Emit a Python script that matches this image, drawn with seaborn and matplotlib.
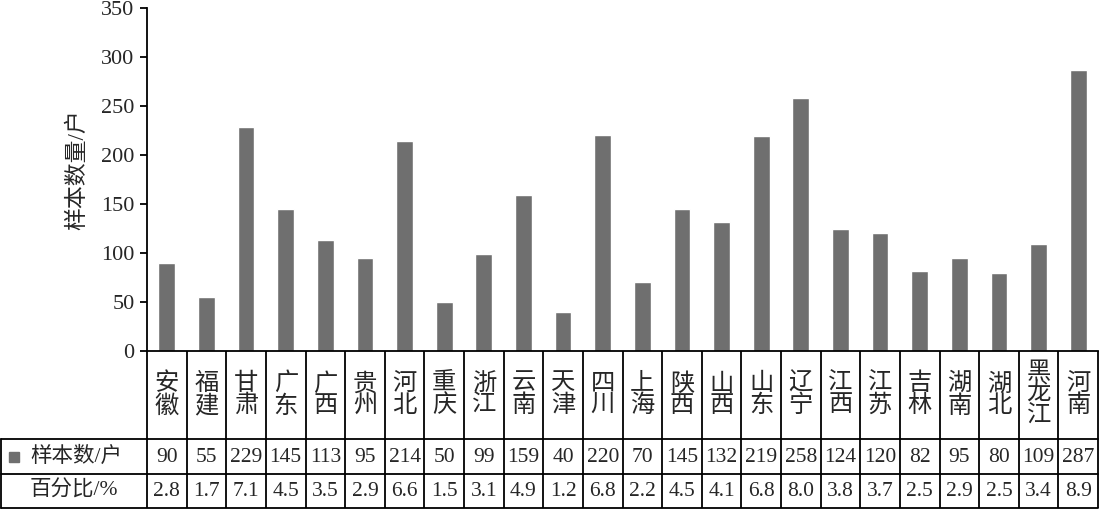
import matplotlib
matplotlib.use('Agg')
import matplotlib.pyplot as plt
import seaborn as sns
import pandas as pd

provinces = ['安徽', '福建', '甘肃', '广东', '广西', '贵州', '河北', '重庆', '浙江', '云南',
             '天津', '四川', '上海', '陕西', '山西', '山东', '辽宁', '江西', '江苏', '吉林',
             '湖南', '湖北', '黑龙江', '河南']
counts = [90, 55, 229, 145, 113, 95, 214, 50, 99, 159, 40, 220, 70, 145, 132, 219, 258,
          124, 120, 82, 95, 80, 109, 287]
percents = ['2.8', '1.7', '7.1', '4.5', '3.5', '2.9', '6.6', '1.5', '3.1', '4.9', '1.2', '6.8',
            '2.2', '4.5', '4.1', '6.8', '8.0', '3.8', '3.7', '2.5', '2.9', '2.5', '3.4', '8.9']
yticks = [0, 50, 100, 150, 200, 250, 300, 350]
row_labels = ['样本数/户', '百分比/%']

bar_color = '#6f6f6f'

sns.set_style('ticks')
plt.rcParams['font.family'] = ['Liberation Serif', 'Noto Sans CJK SC']
plt.rcParams['axes.unicode_minus'] = False

df = pd.DataFrame({'省份': provinces, '样本数': counts})

W, H = 1100, 509
fig = plt.figure(figsize=(W / 100, H / 100), dpi=100)

# chart area (pixels): x 147..1098, y 8..351
ax_l, ax_r, ax_t, ax_b = 147, 1098, 8, 351
ax = fig.add_axes([ax_l / W, (H - ax_b) / H, (ax_r - ax_l) / W, (ax_b - ax_t) / H])
sns.barplot(data=df, x='省份', y='样本数', color=bar_color, saturation=1, width=0.42, ax=ax)
n = len(provinces)
ax.set_xlim(-0.5, n - 0.5)
ax.set_ylim(0, 350)
ax.set_yticks(yticks)
ax.set_yticklabels([str(v) for v in yticks], fontsize=16)
ax.set_xticks([])
ax.set_xlabel('')
ax.set_ylabel('样本数量/户', fontsize=16.5)
ax.yaxis.set_label_coords(-0.062, 0.53)
for s in ['top', 'right']:
    ax.spines[s].set_visible(False)
for s in ['left', 'bottom']:
    ax.spines[s].set_linewidth(1.3)
    ax.spines[s].set_color('black')
ax.tick_params(axis='y', length=5, width=1.3, color='black', pad=4)

# data table under the axis, same x units as the bars
col_w = (ax_r - ax_l) / n
tax = fig.add_axes([0, 0, 1, (H - ax_b) / H])
x_left = -0.5 - ax_l / col_w
x_right = n - 0.5 + (W - ax_r) / col_w
tax.set_xlim(x_left, x_right)
tax.set_ylim(H - ax_b, 0)
tax.axis('off')

row_top = [0, 88, 123]
row_bot = [88, 123, 157]
lw = 1.3
for k in range(n + 1):
    tax.plot([k - 0.5, k - 0.5], [0, 157], color='black', lw=lw, solid_capstyle='butt')
x0 = x_left + 1.0 / col_w
tax.plot([x0, x0], [88, 157], color='black', lw=lw)
for yy in row_bot:
    tax.plot([x0, n - 0.5], [yy, yy], color='black', lw=lw)

for i, name in enumerate(provinces):
    tax.text(i, (row_top[0] + row_bot[0]) / 2, '\n'.join(name), ha='center', va='center',
             fontsize=17.5, linespacing=1.0)
    tax.text(i, (row_top[1] + row_bot[1]) / 2 + 1, str(counts[i]), ha='center', va='center',
             fontsize=15.5)
    tax.text(i, (row_top[2] + row_bot[2]) / 2 + 1, percents[i], ha='center', va='center',
             fontsize=15.5)

tax.plot([x_left + 14 / col_w], [(row_top[1] + row_bot[1]) / 2], marker='s', ms=6.5,
         color=bar_color, ls='none')
tax.text(x_left + 30 / col_w, (row_top[1] + row_bot[1]) / 2, row_labels[0], ha='left',
         va='center', fontsize=15.5)
tax.text(x_left + 30 / col_w, (row_top[2] + row_bot[2]) / 2, row_labels[1], ha='left',
         va='center', fontsize=15.5)

fig.savefig('out.png', dpi=100)
